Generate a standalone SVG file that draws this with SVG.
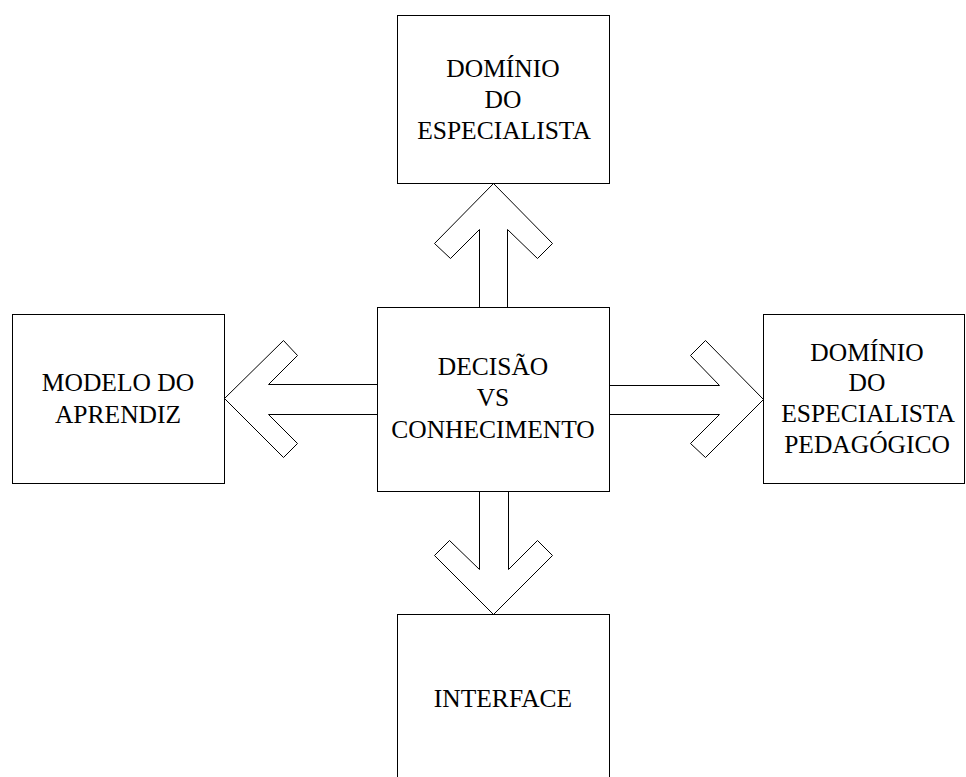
<svg xmlns="http://www.w3.org/2000/svg" width="966" height="777" viewBox="0 0 966 777">
  <style>
    .box { fill: #ffffff; stroke: #000000; stroke-width: 1; }
    .arrow { fill: #ffffff; stroke: #000000; stroke-width: 1; stroke-linejoin: miter; }
    .label { font-family: "Liberation Serif", "Times New Roman", serif; font-size: 25.5px; fill: #000000; text-anchor: middle; }
  </style>
  <rect width="966" height="777" fill="#ffffff"/>

  <!-- block arrows leaving the central box -->
  <g id="connectors">
    <path class="arrow" d="M479.5,307.5 L479.5,229.5 L450.5,258.5 L434.5,243.5 L493.5,183.5 L552.5,243.5 L537.5,258.5 L507.5,229.5 L507.5,307.5"/>
    <path class="arrow" d="M377.5,384.5 L268.5,384.5 L297.5,355.5 L283.5,340.5 L224.5,398.5 L283.5,457.5 L297.5,443.5 L268.5,414.5 L377.5,414.5"/>
    <path class="arrow" d="M609.5,385.5 L719.5,385.5 L690.5,355.5 L705.5,340.5 L763.5,399.5 L705.5,457.5 L690.5,443.5 L719.5,414.5 L609.5,414.5"/>
    <path class="arrow" d="M479.5,491.5 L479.5,569.5 L449.5,540.5 L434.5,555.5 L493.5,614.5 L552.5,555.5 L537.5,540.5 L508.5,569.5 L508.5,491.5"/>
  </g>

  <g id="node-dominio-especialista">
    <rect class="box" x="397.5" y="15.5" width="212" height="168"/>
    <text class="label" x="503" y="77">DOMÍNIO</text>
    <text class="label" x="503" y="108">DO</text>
    <text class="label" x="504" y="139">ESPECIALISTA</text>
  </g>

  <g id="node-decisao">
    <rect class="box" x="377.5" y="307.5" width="232" height="184"/>
    <text class="label" x="493" y="375">DECISÃO</text>
    <text class="label" x="493" y="406">VS</text>
    <text class="label" x="493" y="438">CONHECIMENTO</text>
  </g>

  <g id="node-modelo-aprendiz">
    <rect class="box" x="12.5" y="314.5" width="212" height="169"/>
    <text class="label" x="118" y="391">MODELO DO</text>
    <text class="label" x="118" y="423">APRENDIZ</text>
  </g>

  <g id="node-dominio-pedagogico">
    <rect class="box" x="763.5" y="314.5" width="201" height="169"/>
    <text class="label" x="867" y="361">DOMÍNIO</text>
    <text class="label" x="867" y="391">DO</text>
    <text class="label" x="868" y="422">ESPECIALISTA</text>
    <text class="label" x="867" y="453">PEDAGÓGICO</text>
  </g>

  <g id="node-interface">
    <rect class="box" x="397.5" y="614.5" width="212" height="180"/>
    <text class="label" x="503" y="707">INTERFACE</text>
  </g>
</svg>
